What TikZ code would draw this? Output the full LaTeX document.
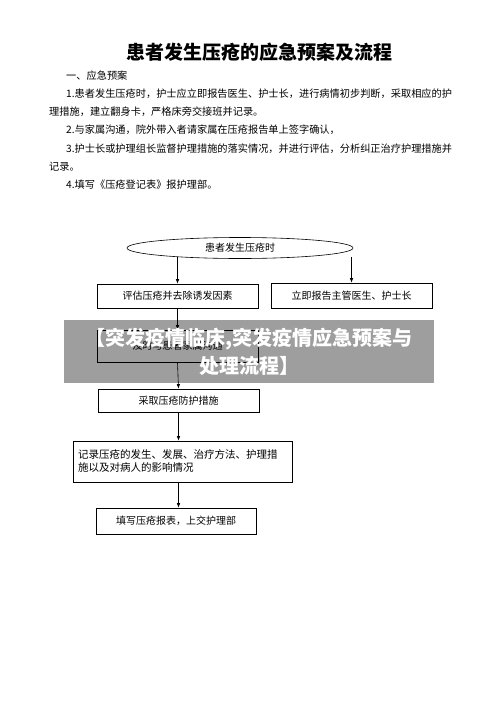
\documentclass[tikz,border=0pt]{standalone}
\usepackage{fontspec}
\setmainfont{Noto Sans CJK SC}
\usetikzlibrary{shapes.geometric,arrows.meta}
\tikzset{
  bodytext/.style={anchor=west, inner sep=0pt, font=\fontsize{10.2}{12}\selectfont},
  stepbox/.style={draw, line width=0.6pt, inner sep=0pt, font=\fontsize{10}{12}\selectfont},
  arr/.style={-{Latex[length=4.5pt,width=3.5pt]}, line width=0.6pt},
  banner/.style={fill=black, fill opacity=0.38, text opacity=1, text=white, inner sep=0pt,
    font=\fontsize{20}{28}\selectfont\bfseries, align=center}
}
\begin{document}
\begin{tikzpicture}[x=1pt,y=-1pt]
\useasboundingbox (0,0) rectangle (500,706);
\fill[white] (0,0) rectangle (500,706);

\node[font=\fontsize{19}{22}\selectfont\bfseries] (title) at (259,52) {患者发生压疮的应急预案及流程};

\node[bodytext] (l0) at (66,76) {一、应急预案};
\node[bodytext] (l1) at (66,93.5) {1.患者发生压疮时，护士应立即报告医生、护士长，进行病情初步判断，采取相应的护};
\node[bodytext] (l2) at (49,112) {理措施，建立翻身卡，严格床旁交接班并记录。};
\node[bodytext] (l3) at (66,130) {2.与家属沟通，院外带入者请家属在压疮报告单上签字确认，};
\node[bodytext] (l4) at (66,148.5) {3.护士长或护理组长监督护理措施的落实情况，并进行评估，分析纠正治疗护理措施并};
\node[bodytext] (l5) at (49,167) {记录。};
\node[bodytext] (l6) at (66,185) {4.填写《压疮登记表》报护理部。};

\node[ellipse, draw, line width=0.6pt, minimum width=226, minimum height=21, inner sep=0pt,
  font=\fontsize{10}{12}\selectfont] (e) at (240,248) {患者发生压疮时};

\node[stepbox, minimum width=161, minimum height=24] (b1) at (177.5,296) {评估压疮并去除诱发因素};
\node[stepbox, minimum width=161, minimum height=25] (b2) at (351.5,295.5) {立即报告主管医生、护士长};
\node[stepbox, minimum width=161, minimum height=32] (b3) at (177.5,346) {及时与患者家属沟通};
\node[stepbox, minimum width=161, minimum height=23] (b4) at (178.5,400.5) {采取压疮防护措施};
\node[stepbox, minimum width=219, minimum height=41, inner xsep=5pt, text width=209, align=left,
  font=\fontsize{10.5}{13}\selectfont] (b5) at (182.5,461.5) {记录压疮的发生、发展、治疗方法、护理措\\施以及对病人的影响情况};
\node[stepbox, minimum width=160, minimum height=26] (b6) at (176,521) {填写压疮报表，上交护理部};

\draw[arr] ([yshift=2pt]e.south -| b1.north) -- (b1.north);
\draw[arr] ([yshift=2pt]e.south -| b2.north) -- (b2.north);
\draw[arr] (b1.south) -- (b3.north);
\draw[arr] (b3.south) -- (b4.north);
\draw[arr] (b4.south) -- (b4.south |- b5.north);
\draw[arr] (b4.south |- b5.south) -- (b4.south |- b6.north);

\node[banner, minimum width=370, minimum height=63] (ban) at (249,351.5)
  {【突发疫情临床,突发疫情应急预案与\\处理流程】};
\end{tikzpicture}
\end{document}
